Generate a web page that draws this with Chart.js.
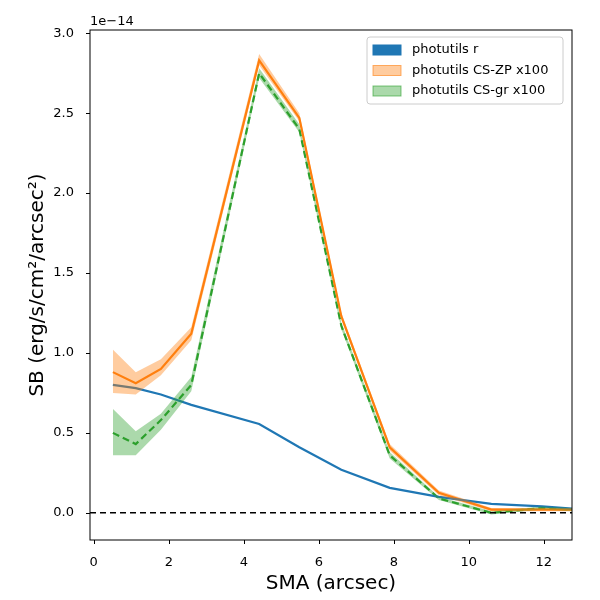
<!DOCTYPE html>
<html><head><meta charset="utf-8">
<script src="https://cdn.jsdelivr.net/npm/chart.js@4.4.1/dist/chart.umd.min.js"></script>
<style>body{margin:0;background:#fff}canvas{display:block}</style>
</head><body>
<canvas id="c" width="600" height="600"></canvas>
<script>
// profile radii (arcsec) and surface brightness in units of 1e-14
const sma = [0.51, 1.12, 1.79, 2.6, 4.41, 5.48, 6.6, 7.89, 9.2, 10.6, 11.95, 12.8];
const sbR = [0.80, 0.78, 0.74, 0.675, 0.556, 0.41, 0.27, 0.156, 0.10, 0.056, 0.04, 0.025];
const sbZP = [0.88, 0.81, 0.90, 1.12, 2.83, 2.47, 1.23, 0.41, 0.125, 0.02, 0.02, 0.02];
const zpLo = [0.75, 0.74, 0.86, 1.08, 2.80, 2.45, 1.21, 0.39, 0.11, 0.01, 0.01, 0.01];
const zpHi = [1.02, 0.88, 0.96, 1.16, 2.87, 2.50, 1.25, 0.43, 0.14, 0.03, 0.03, 0.03];
const sbGR = [0.50, 0.43, 0.58, 0.80, 2.75, 2.40, 1.17, 0.36, 0.09, 0.0, 0.03, 0.02];
const grLo = [0.36, 0.36, 0.52, 0.76, 2.72, 2.38, 1.15, 0.34, 0.08, -0.01, 0.02, 0.01];
const grHi = [0.65, 0.51, 0.62, 0.85, 2.78, 2.43, 1.19, 0.38, 0.10, 0.01, 0.04, 0.03];
const yTicks = [0.0, 0.5, 1.0, 1.5, 2.0, 2.5, 3.0];
const xTicks = [0, 2, 4, 6, 8, 10, 12];

const pts = a => a.map((v, i) => ({x: sma[i], y: v}));
const line = (data, color, extra) => Object.assign({data: pts(data), borderColor: color, borderWidth: 2.2, pointRadius: 0, fill: false, tension: 0}, extra || {});

const overlay = {
    id: "overlay",
    afterDraw(chart) {
        const ctx = chart.ctx, a = chart.chartArea, x = chart.scales.x, y = chart.scales.y;
        ctx.save();
        // zero line
        ctx.beginPath(); ctx.rect(a.left, a.top, a.right - a.left, a.bottom - a.top); ctx.clip();
        ctx.strokeStyle = "#000"; ctx.lineWidth = 1.6; ctx.setLineDash([6, 4]);
        ctx.beginPath(); ctx.moveTo(a.left, y.getPixelForValue(0)); ctx.lineTo(a.right, y.getPixelForValue(0)); ctx.stroke();
        ctx.restore();
        ctx.save();
        ctx.strokeStyle = "#000"; ctx.lineWidth = 1; ctx.setLineDash([]);
        ctx.strokeRect(a.left, a.top, a.right - a.left, a.bottom - a.top);
        // tick marks
        ctx.beginPath();
        xTicks.forEach(v => { const p = Math.round(x.getPixelForValue(v)) + 0.5; ctx.moveTo(p, a.bottom); ctx.lineTo(p, a.bottom + 4); });
        yTicks.forEach(v => { const p = Math.round(y.getPixelForValue(v)) + 0.5; ctx.moveTo(a.left, p); ctx.lineTo(a.left - 4, p); });
        ctx.stroke();
        ctx.fillStyle = "#000"; ctx.font = "13px 'DejaVu Sans'"; ctx.textBaseline = "bottom";
        ctx.fillText("1e\u221214", a.left, a.top - 2);
        // legend
        const lx = 367, ly = 37;
        ctx.fillStyle = "rgba(255,255,255,0.8)"; ctx.strokeStyle = "#ccc";
        ctx.beginPath(); ctx.roundRect(lx, ly, 196, 67, 3); ctx.fill(); ctx.stroke();
        const items = [
            ["photutils r", "#1f77b4", "#1f77b4"],
            ["photutils CS-ZP x100", "rgba(255,127,14,0.4)", "rgba(255,127,14,0.6)"],
            ["photutils CS-gr x100", "rgba(44,160,44,0.4)", "rgba(44,160,44,0.6)"]
        ];
        ctx.font = "13px 'DejaVu Sans'"; ctx.textBaseline = "middle";
        items.forEach((it, i) => {
            const yy = ly + 13 + i * 20.5;
            ctx.fillStyle = it[1]; ctx.fillRect(lx + 6, yy - 5, 28, 10);
            ctx.strokeStyle = it[2]; ctx.strokeRect(lx + 6, yy - 5, 28, 10);
            ctx.fillStyle = "#000"; ctx.fillText(it[0], lx + 45, yy);
        });
        ctx.restore();
    }
};

new Chart(document.getElementById("c"), {
    type: "scatter",
    data: {
        datasets: [
            line(zpLo, "transparent", {borderWidth: 0}),
            line(zpHi, "transparent", {borderWidth: 0, fill: "-1", backgroundColor: "rgba(255,127,14,0.4)"}),
            line(grLo, "transparent", {borderWidth: 0}),
            line(grHi, "transparent", {borderWidth: 0, fill: "-1", backgroundColor: "rgba(44,160,44,0.4)"}),
            line(sbR, "#1f77b4"),
            line(sbZP, "#ff7f0e"),
            line(sbGR, "#2ca02c", {borderDash: [7, 4]})
        ].map(d => Object.assign(d, {showLine: true}))
    },
    options: {
        responsive: false, animation: false,
        layout: {padding: {top: 30, right: 28, bottom: 0, left: 22}},
        plugins: {legend: {display: false}, tooltip: {enabled: false}},
        scales: {
            x: {
                type: "linear", min: -0.1, max: 12.75,
                afterBuildTicks: s => { s.ticks = xTicks.map(v => ({value: v})); },
                afterFit: s => { s.height = 60; },
                grid: {display: false},
                border: {display: false},
                ticks: {color: "#000", font: {family: "DejaVu Sans", size: 13}, padding: 7},
                title: {display: true, text: "SMA (arcsec)", color: "#000", font: {family: "DejaVu Sans", size: 20}, padding: {top: 2}}
            },
            y: {
                min: -0.17, max: 3.02,
                afterBuildTicks: s => { s.ticks = yTicks.map(v => ({value: v})); },
                afterFit: s => { s.width = 68; },
                grid: {display: false},
                border: {display: false},
                ticks: {color: "#000", font: {family: "DejaVu Sans", size: 13}, padding: 8, callback: v => v.toFixed(1)},
                title: {display: true, text: "SB (erg/s/cm\u00b2/arcsec\u00b2)", color: "#000", font: {family: "DejaVu Sans", size: 20}, padding: {bottom: 4}}
            }
        }
    },
    plugins: [overlay]
});
</script>
</body></html>
